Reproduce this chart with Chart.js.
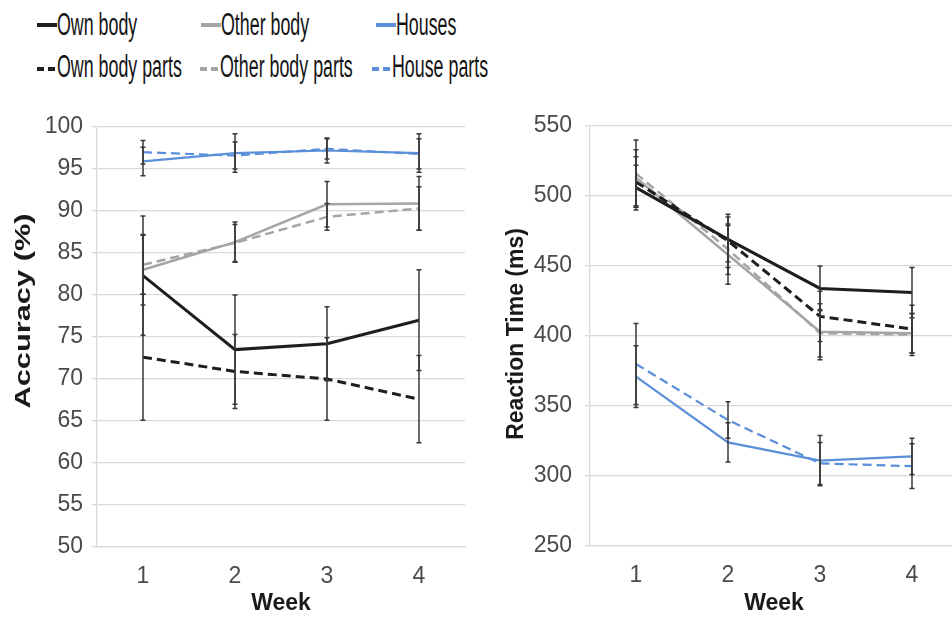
<!DOCTYPE html>
<html>
<head>
<meta charset="utf-8">
<script src="https://cdn.jsdelivr.net/npm/chart.js@4/dist/chart.umd.min.js"></script>
<style>
  html, body { margin: 0; padding: 0; background: #fff; }
  body { width: 952px; height: 617px; position: relative; overflow: hidden; font-family: "Liberation Sans", Arial, sans-serif; }
  canvas { position: absolute; top: 95px; }
  #accChart { left: 0; }
  #rtChart { left: 480px; }
  .item { position: absolute; height: 34px; }
  .item .swatch { position: absolute; left: 0; width: 20px; height: 4px; }
  .item .label { position: absolute; left: 20px; top: 0; font-size: 31px; line-height: 34px; color: #141414; white-space: nowrap; transform: scaleX(0.575); transform-origin: left center; }
</style>
</head>
<body>
<div id="legend"></div>
<canvas id="accChart" width="480" height="522"></canvas>
<canvas id="rtChart" width="478" height="522"></canvas>
<script>
// weeks on the x axis
const weeks = ["1", "2", "3", "4"];

// accuracy (%) per condition, with error bar half-widths
const accOwnBody = [82.3, 73.5, 74.2, 77.0];
const accOwnBodyErr = [7.1, 6.5, 4.4, 6.0];
const accOwnParts = [72.6, 70.9, 70.0, 67.6];
const accOwnPartsErr = [7.5, 4.4, 4.9, 5.2];
const accOtherBody = [83.0, 86.3, 90.8, 90.9];
const accOtherBodyErr = [4.2, 2.4, 2.7, 3.2];
const accOtherParts = [83.6, 86.2, 89.3, 90.3];
const accOtherPartsErr = [3.5, 2.2, 1.6, 2.6];
const accHouses = [95.9, 96.9, 97.2, 96.9];
const accHousesErr = [1.7, 2.3, 1.5, 2.3];
const accHouseParts = [97.0, 96.6, 97.4, 96.8];
const accHousePartsErr = [1.4, 1.6, 1.2, 1.8];

// reaction time (ms) per condition
const rtOwnBody = [506, 469, 434, 431];
const rtOwnBodyErr = [16, 16, 16, 18];
const rtOwnParts = [510, 468, 414, 405];
const rtOwnPartsErr = [18, 19, 18, 17];
const rtOtherBody = [513, 458, 403, 402];
const rtOtherBodyErr = [20, 21, 20, 14];
const rtOtherParts = [516, 462, 402, 401];
const rtOtherPartsErr = [24, 18, 17, 15];
const rtHouses = [371, 324, 311, 314];
const rtHousesErr = [22, 14, 18, 13];
const rtHouseParts = [380, 340, 309, 307];
const rtHousePartsErr = [29, 13, 15, 16];

const BLACK = "#1e1e1e";
const GREY = "#a5a5a5";
const BLUE = "#5b8fd9";

Chart.defaults.font.family = "'Liberation Sans', Arial, sans-serif";
Chart.defaults.color = "#4a4a4a";

// legend across the top (3 columns x 2 rows)
const legendItems = [
  { text: "Own body", color: BLACK, dashed: false, x: 37, y: 8 },
  { text: "Own body parts", color: BLACK, dashed: true, x: 37, y: 50 },
  { text: "Other body", color: GREY, dashed: false, x: 201, y: 8 },
  { text: "Other body parts", color: GREY, dashed: true, x: 200, y: 50 },
  { text: "Houses", color: BLUE, dashed: false, x: 376, y: 8 },
  { text: "House parts", color: BLUE, dashed: true, x: 372, y: 50 },
];
const legend = document.getElementById("legend");
legendItems.forEach((it) => {
  let div = document.createElement("div");
  div.className = "item";
  div.style.left = it.x + "px";
  div.style.top = it.y + "px";
  let sw = document.createElement("span");
  sw.className = "swatch";
  sw.style.top = (it.dashed ? 17 : 15) + "px";
  if (it.dashed) {
    sw.style.width = "18px";
    sw.style.background = "linear-gradient(to right, " + it.color + " 0 7px, transparent 7px 11px, " + it.color + " 11px 18px)";
  } else {
    sw.style.background = it.color;
  }
  let lb = document.createElement("span");
  lb.className = "label";
  lb.innerText = it.text;
  div.appendChild(sw);
  div.appendChild(lb);
  legend.appendChild(div);
});

// vertical error bars with small caps
const errorBars = {
  id: "errorBars",
  afterDatasetsDraw(chart) {
    const ctx = chart.ctx;
    const y = chart.scales.y;
    chart.data.datasets.forEach((ds, i) => {
      const meta = chart.getDatasetMeta(i);
      ctx.save();
      ctx.strokeStyle = "#383838";
      ctx.lineWidth = 1.5;
      meta.data.forEach((pt, j) => {
        const top = y.getPixelForValue(ds.data[j] + ds.errors[j]);
        const bot = y.getPixelForValue(ds.data[j] - ds.errors[j]);
        ctx.beginPath();
        ctx.moveTo(pt.x, top);
        ctx.lineTo(pt.x, bot);
        ctx.moveTo(pt.x - 2.5, top);
        ctx.lineTo(pt.x + 2.5, top);
        ctx.moveTo(pt.x - 2.5, bot);
        ctx.lineTo(pt.x + 2.5, bot);
        ctx.stroke();
      });
      ctx.restore();
    });
  },
};

// rotated y axis title, stretched along its length
const sideTitle = {
  id: "sideTitle",
  afterDraw(chart, args, opts) {
    const ctx = chart.ctx;
    const area = chart.chartArea;
    ctx.save();
    ctx.translate(opts.x, (area.top + area.bottom) / 2 + opts.shift);
    ctx.rotate(-Math.PI / 2);
    ctx.scale(opts.stretch, 1);
    ctx.font = "bold " + opts.size + "px 'Liberation Sans', Arial, sans-serif";
    ctx.fillStyle = "#1a1a1a";
    ctx.textAlign = "center";
    ctx.textBaseline = "middle";
    ctx.fillText(opts.text, 0, 0);
    ctx.restore();
  },
};

function series(label, data, errors, color, dashed, width) {
  return {
    label: label,
    data: data,
    errors: errors,
    borderColor: color,
    backgroundColor: color,
    borderWidth: width,
    borderDash: dashed ? [9, 5] : [],
    pointRadius: 0,
    tension: 0,
    fill: false,
  };
}

function makeChart(id, datasets, yMin, yMax, step, axisWidth, axisHeight, labelGap, pad, title) {
  return new Chart(document.getElementById(id), {
    type: "line",
    data: { labels: weeks, datasets: datasets },
    plugins: [errorBars, sideTitle],
    options: {
      responsive: false,
      animation: false,
      devicePixelRatio: 1,
      layout: { padding: pad },
      plugins: {
        legend: { display: false },
        tooltip: { enabled: false },
        sideTitle: title,
      },
      scales: {
        x: {
          offset: true,
          grid: { display: false },
          border: { display: true, color: "#d9d9d9", width: 1.3 },
          ticks: { font: { size: 23 }, padding: 8, color: "#4a4a4a" },
          title: { display: true, text: "Week", font: { size: 23, weight: "bold" }, color: "#1a1a1a", padding: { top: 0, bottom: 0 } },
          afterFit(scale) { scale.height = axisHeight; },
        },
        y: {
          min: yMin,
          max: yMax,
          grid: { color: "#d9d9d9", lineWidth: 1.3, tickLength: 5, drawTicks: true },
          border: { display: true, color: "#d9d9d9", width: 1.3 },
          ticks: { stepSize: step, font: { size: 23 }, padding: labelGap, color: "#4a4a4a" },
          afterFit(scale) { scale.width = axisWidth; },
        },
      },
    },
  });
}

// Accuracy chart
makeChart("accChart", [
  series("Own body", accOwnBody, accOwnBodyErr, BLACK, false, 3),
  series("Own body parts", accOwnParts, accOwnPartsErr, BLACK, true, 3),
  series("Other body", accOtherBody, accOtherBodyErr, GREY, false, 2.5),
  series("Other body parts", accOtherParts, accOtherPartsErr, GREY, true, 2.5),
  series("Houses", accHouses, accHousesErr, BLUE, false, 2.2),
  series("House parts", accHouseParts, accHousePartsErr, BLUE, true, 2.2),
], 50, 100, 5, 97, 70, 9, { top: 32, right: 15, bottom: 0, left: 0 },
  { text: "Accuracy (%)", x: 24, shift: -26, size: 22, stretch: 1.4 });

// Reaction time chart
makeChart("rtChart", [
  series("Own body", rtOwnBody, rtOwnBodyErr, BLACK, false, 3),
  series("Own body parts", rtOwnParts, rtOwnPartsErr, BLACK, true, 3),
  series("Other body", rtOtherBody, rtOtherBodyErr, GREY, false, 2.5),
  series("Other body parts", rtOtherParts, rtOtherPartsErr, GREY, true, 2.5),
  series("Houses", rtHouses, rtHousesErr, BLUE, false, 2.2),
  series("House parts", rtHouseParts, rtHousePartsErr, BLUE, true, 2.2),
], 250, 550, 50, 110, 71, 13, { top: 31, right: 0, bottom: 0, left: 0 },
  { text: "Reaction Time (ms)", x: 37, shift: -2, size: 23, stretch: 1.0 });
</script>
</body>
</html>
